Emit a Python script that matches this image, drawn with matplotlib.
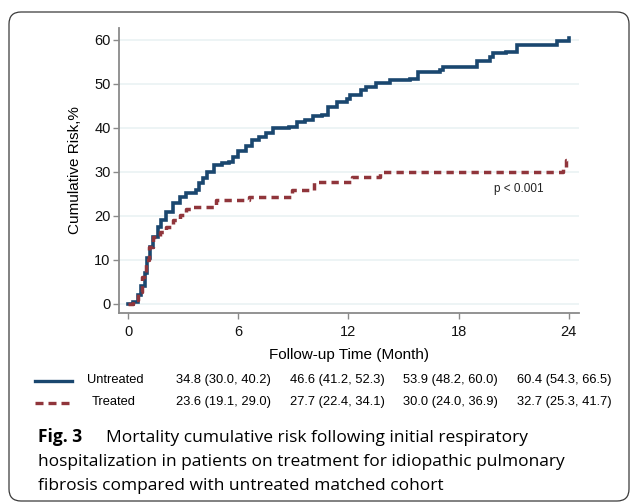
"""
Cumulative mortality risk after first respiratory hospitalization,
treated vs untreated IPF patients (Fig. 3 redraw).
"""

import matplotlib
matplotlib.use("Agg")
import matplotlib.pyplot as plt
from matplotlib.lines import Line2D
from matplotlib.patches import FancyBboxPatch

# Curves (months, cumulative risk %)
untreated_t = [0, 0.27, 0.54, 0.72, 0.9, 1.03, 1.17, 1.35, 1.62, 1.8, 2.07,
               2.43, 2.8, 3.15, 3.7, 3.87, 4.05, 4.32, 4.68, 5.1, 5.5, 5.7,
               6.0, 6.4, 6.76, 7.1, 7.5, 7.9, 8.74, 9.2, 9.64, 10.05, 10.54,
               10.9, 11.4, 11.9, 12.1, 12.7, 12.97, 13.5, 14.24, 15.33, 15.8,
               16.97, 17.15, 18.98, 19.7, 19.9, 20.6, 21.16, 23.35, 24.0]
untreated_y = [0, 0.5, 2, 4, 7, 10.4, 13, 15.3, 17.6, 19, 21,
               22.9, 24.4, 25.2, 26, 27.4, 28.6, 30, 31.6, 32, 32.3, 33.5,
               34.8, 35.8, 37.3, 38, 38.8, 40, 40.2, 41.4, 41.8, 42.6, 43,
               44.8, 46, 46.6, 47.5, 48.6, 49.4, 50.2, 50.9, 51.1, 52.8,
               53.2, 53.9, 55.1, 56.2, 57, 57.3, 58.9, 59.8, 60.4]

treated_t = [0, 0.27, 0.54, 0.77, 0.95, 1.13, 1.35, 1.71, 2.07, 2.43, 2.8,
             3.15, 3.5, 4.77, 6.6, 8.9, 10.14, 12.2, 13.7, 23.7, 23.85, 24.0]
treated_y = [0, 0.9, 2.8, 6.2, 10, 13, 15.3, 16.4, 17.6, 19.1, 20.2,
             21.5, 22.1, 23.6, 24.4, 25.9, 27.7, 28.9, 30.0, 31.2, 32.7, 32.7]

# Risk table under the plot
groups = ["Untreated", "Treated"]
untreated_cells = ["34.8 (30.0, 40.2)", "46.6 (41.2, 52.3)",
                   "53.9 (48.2, 60.0)", "60.4 (54.3, 66.5)"]
treated_cells = ["23.6 (19.1, 29.0)", "27.7 (22.4, 34.1)",
                 "30.0 (24.0, 36.9)", "32.7 (25.3, 41.7)"]

xticks = [0, 6, 12, 18, 24]
yticks = [0, 10, 20, 30, 40, 50, 60]

navy = "#1a476f"
maroon = "#90353b"
W, H = 630, 504


def fx(px):
    return px / W


def fy(py):
    return 1 - py / H


plt.rcParams["font.family"] = ["Liberation Sans", "DejaVu Sans"]

fig = plt.figure(figsize=(6.3, 5.04), dpi=100)
ax = fig.add_axes([fx(119), fy(313), fx(579 - 119), (313 - 28) / H])

ax.step(untreated_t, untreated_y, where="post", color=navy, lw=2.6,
        solid_joinstyle="miter", zorder=3)
ax.step(treated_t, treated_y, where="post", color=maroon, lw=2.5,
        linestyle=(0, (2.1, 1.5)), zorder=3)

ax.set_xlim(-0.5, 24.56)
ax.set_ylim(-2.05, 62.7)
ax.set_xticks(xticks)
ax.set_yticks(yticks)
ax.yaxis.grid(True, color="#eaf2f3", lw=1.2)
ax.set_axisbelow(True)
for s in ["top", "right"]:
    ax.spines[s].set_visible(False)
for s in ["left", "bottom"]:
    ax.spines[s].set_color("#8a8a8a")
    ax.spines[s].set_linewidth(1.3)
ax.tick_params(direction="out", length=4, width=1, color="#8a8a8a",
               labelsize=10.5, labelcolor="#111111")
ax.tick_params(axis="x", pad=5)
ax.tick_params(axis="y", pad=2)
ax.set_ylabel("Cumulative Risk,%", fontsize=11, labelpad=9)
ax.set_xlabel("Follow-up Time (Month)", fontsize=11, labelpad=6)
ax.text(21.3, 26.1, "p < 0.001", fontsize=8.5, ha="center", va="center",
        color="#222222")

# table legend keys
fig.add_artist(Line2D([fx(35), fx(72)], [fy(381), fy(381)], color=navy,
                      lw=2.4))
fig.add_artist(Line2D([fx(35), fx(72)], [fy(403), fy(403)], color=maroon,
                      lw=2.4, linestyle=(0, (2.4, 1.5))))

row_y = [380, 402]
col_x = [176, 290, 403, 517]
fig.text(fx(87), fy(row_y[0]), groups[0], fontsize=9.3, va="center")
fig.text(fx(92), fy(row_y[1]), groups[1], fontsize=9.3, va="center")
for i in range(4):
    fig.text(fx(col_x[i]), fy(row_y[0]), untreated_cells[i], fontsize=9.3,
             va="center")
    fig.text(fx(col_x[i]), fy(row_y[1]), treated_cells[i], fontsize=9.3,
             va="center")

# caption
cfont = ["Open Sans", "DejaVu Sans"]
cap_y = [442, 466, 490]
fig.text(fx(38), fy(cap_y[0]), "Fig. 3", fontsize=12.5, weight="bold",
         family=cfont, va="baseline")
fig.text(fx(106), fy(cap_y[0]),
         "Mortality cumulative risk following initial respiratory",
         fontsize=12.5, family=cfont, va="baseline")
fig.text(fx(38), fy(cap_y[1]),
         "hospitalization in patients on treatment for idiopathic pulmonary",
         fontsize=12.5, family=cfont, va="baseline")
fig.text(fx(38), fy(cap_y[2]),
         "fibrosis compared with untreated matched cohort",
         fontsize=12.5, family=cfont, va="baseline")

# rounded frame around the figure
frame = FancyBboxPatch((0.09, 0.03), 6.20, 4.89,
                       boxstyle="round,pad=0,rounding_size=0.12",
                       transform=fig.dpi_scale_trans, fill=False,
                       edgecolor="#3a3a3a", lw=0.9)
fig.add_artist(frame)

fig.savefig("out.png", dpi=100)
